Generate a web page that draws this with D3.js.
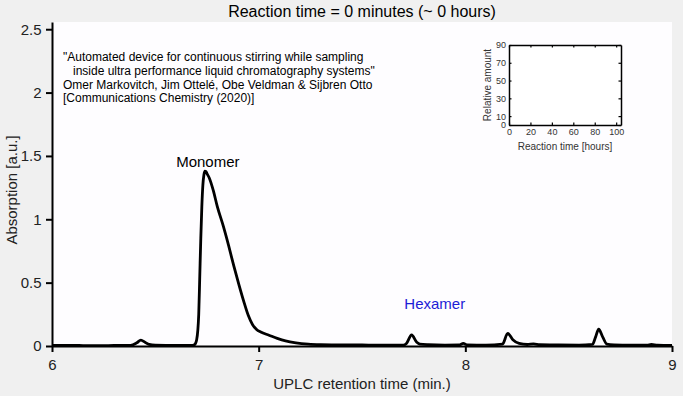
<!DOCTYPE html>
<html lang="en">
<head>
  <meta charset="UTF-8" />
  <title>Reaction time chromatogram</title>
  <style>
    body { margin: 0; background: #f0f0f0; font-family: "Liberation Sans", Arial, sans-serif; }
    svg { display: block; }
    .tick text { font-family: "Liberation Sans", Arial, sans-serif; }
  </style>
</head>
<body>
<svg id="chart"></svg>
<script src="https://d3js.org/d3.v7.min.js"></script>
<script>
  const width = 683, height = 396;

  // chromatogram
  const retention = [6.00, 6.10, 6.20, 6.30, 6.38, 6.41, 6.43, 6.45, 6.47, 6.50, 6.60, 6.68,
    6.69, 6.70, 6.71, 6.715, 6.72, 6.725, 6.73, 6.735, 6.74, 6.745, 6.75, 6.76, 6.78, 6.80,
    6.83, 6.855, 6.88, 6.905, 6.93, 6.95, 6.97, 6.99, 7.01, 7.05, 7.09, 7.13, 7.18, 7.24,
    7.30, 7.40, 7.50, 7.60, 7.70, 7.715, 7.74, 7.765, 7.78, 7.82, 7.90, 7.97, 7.99, 8.01,
    8.10, 8.18, 8.205, 8.23, 8.26, 8.30, 8.33, 8.36, 8.45, 8.55, 8.615, 8.63, 8.645, 8.665,
    8.685, 8.72, 8.80, 8.88, 8.90, 8.93, 9.00];
  const absorption = [0.004, 0.004, 0.003, 0.004, 0.005, 0.025, 0.047, 0.030, 0.012, 0.006, 0.004, 0.004,
    0.010, 0.050, 0.250, 0.550, 0.850, 1.100, 1.270, 1.350, 1.380, 1.378, 1.360, 1.330, 1.230, 1.100,
    0.940, 0.790, 0.630, 0.480, 0.340, 0.240, 0.170, 0.130, 0.110, 0.085, 0.060, 0.040, 0.025, 0.015,
    0.011, 0.009, 0.008, 0.007, 0.007, 0.020, 0.087, 0.030, 0.015, 0.010, 0.007, 0.008, 0.020, 0.009,
    0.007, 0.015, 0.100, 0.050, 0.020, 0.012, 0.017, 0.010, 0.008, 0.007, 0.012, 0.070, 0.132, 0.070,
    0.015, 0.009, 0.006, 0.006, 0.012, 0.006, 0.004];

  const xTicks = [6, 7, 8, 9];
  const yTicks = [0, 0.5, 1, 1.5, 2, 2.5];
  const insetXTicks = [0, 20, 40, 60, 80, 100];
  const insetYTicks = [0, 10, 30, 50, 70, 90];

  const citation = [
    "\"Automated device for continuous stirring while sampling",
    "   inside ultra performance liquid chromatography systems\"",
    "Omer Markovitch, Jim Ottelé, Obe Veldman & Sijbren Otto",
    "[Communications Chemistry (2020)]"
  ];

  const plot = { left: 52, right: 672, top: 22, bottom: 346 };

  const svg = d3.select("#chart").attr("width", width).attr("height", height);

  const x = d3.scaleLinear().domain([6, 9]).range([plot.left, plot.right]);
  const y = d3.scaleLinear().domain([0, 2.557]).range([plot.bottom, plot.top]);

  svg.append("rect")
    .attr("x", plot.left).attr("y", plot.top)
    .attr("width", plot.right - plot.left).attr("height", plot.bottom - plot.top)
    .attr("fill", "#fefdff");

  svg.append("text")
    .attr("x", 362).attr("y", 17)
    .attr("text-anchor", "middle")
    .style("font-size", "16px")
    .text("Reaction time = 0 minutes (~ 0 hours)");

  // main axes
  const xAxis = svg.append("g")
    .attr("transform", `translate(0,${plot.bottom})`)
    .call(d3.axisBottom(x).tickValues(xTicks).tickFormat(d3.format("d")).tickSize(6).tickSizeOuter(0));
  const yAxis = svg.append("g")
    .attr("transform", `translate(${plot.left},0)`)
    .call(d3.axisLeft(y).tickValues(yTicks).tickFormat(d => d).tickSize(6).tickSizeOuter(0));

  [xAxis, yAxis].forEach(g => {
    g.select(".domain").attr("stroke", "#000").attr("stroke-width", 2);
    g.selectAll(".tick line").attr("stroke", "#000").attr("stroke-width", 2);
    g.selectAll(".tick text").style("font-size", "15px").attr("fill", "#222");
  });
  xAxis.selectAll(".tick text").attr("dy", "1em");
  yAxis.selectAll(".tick text").attr("dx", "-0.1em");

  svg.append("text")
    .attr("x", (plot.left + plot.right) / 2).attr("y", 389)
    .attr("text-anchor", "middle")
    .style("font-size", "15px").attr("fill", "#222")
    .text("UPLC retention time (min.)");

  svg.append("text")
    .attr("transform", `translate(17,${(plot.top + plot.bottom) / 2 + 6}) rotate(-90)`)
    .attr("text-anchor", "middle")
    .style("font-size", "15px").attr("fill", "#222")
    .text("Absorption [a.u.]");

  // citation
  svg.append("text")
    .attr("x", 63).attr("y", 61)
    .style("font-size", "12px")
    .selectAll("tspan")
    .data(citation)
    .enter()
    .append("tspan")
    .attr("x", 63)
    .attr("dy", (d, i) => i === 0 ? 0 : 13.8)
    .attr("xml:space", "preserve")
    .style("white-space", "pre")
    .text(d => d);

  // chromatogram line
  const line = d3.line()
    .x((d, i) => x(retention[i]))
    .y(d => y(d))
    .curve(d3.curveMonotoneX);

  svg.append("path")
    .datum(absorption)
    .attr("fill", "none")
    .attr("stroke", "#000")
    .attr("stroke-width", 2.8)
    .attr("stroke-linejoin", "round")
    .attr("d", line);

  svg.append("text")
    .attr("x", x(6.754)).attr("y", y(1.41))
    .attr("text-anchor", "middle")
    .style("font-size", "15px")
    .text("Monomer");

  svg.append("text")
    .attr("x", x(7.852)).attr("y", y(0.295))
    .attr("text-anchor", "middle")
    .style("font-size", "15px")
    .attr("fill", "#1c1cd6")
    .text("Hexamer");

  // inset
  const inset = { left: 509, right: 621, top: 45, bottom: 125 };
  const ix = d3.scaleLinear().domain([0, 104.5]).range([inset.left, inset.right]);
  const iy = d3.scaleLinear().domain([0, 90]).range([inset.bottom, inset.top]);

  svg.append("rect")
    .attr("x", inset.left).attr("y", inset.top)
    .attr("width", inset.right - inset.left).attr("height", inset.bottom - inset.top)
    .attr("fill", "#fff");

  const insetGroups = [
    svg.append("g").attr("transform", `translate(0,${inset.bottom})`)
      .call(d3.axisBottom(ix).tickValues(insetXTicks).tickSize(-2.5).tickSizeOuter(0).tickPadding(4)),
    svg.append("g").attr("transform", `translate(${inset.left},0)`)
      .call(d3.axisLeft(iy).tickValues(insetYTicks).tickSize(-2.5).tickSizeOuter(0).tickPadding(3)),
    svg.append("g").attr("transform", `translate(0,${inset.top})`)
      .call(d3.axisTop(ix).tickValues(insetXTicks).tickSize(-2.5).tickSizeOuter(0).tickFormat("")),
    svg.append("g").attr("transform", `translate(${inset.right},0)`)
      .call(d3.axisRight(iy).tickValues(insetYTicks).tickSize(-2.5).tickSizeOuter(0).tickFormat(""))
  ];
  insetGroups.forEach(g => {
    g.select(".domain").attr("stroke", "#000").attr("stroke-width", 1.5);
    g.selectAll(".tick line").attr("stroke", "#000").attr("stroke-width", 1.2);
    g.selectAll(".tick text").style("font-size", "9px").attr("fill", "#333");
  });

  svg.append("text")
    .attr("x", (inset.left + inset.right) / 2).attr("y", 150)
    .attr("text-anchor", "middle")
    .style("font-size", "10px").attr("fill", "#333")
    .text("Reaction time [hours]");

  svg.append("text")
    .attr("transform", `translate(491,${(inset.top + inset.bottom) / 2}) rotate(-90)`)
    .attr("text-anchor", "middle")
    .style("font-size", "10px").attr("fill", "#333")
    .text("Relative amount");
</script>
</body>
</html>
